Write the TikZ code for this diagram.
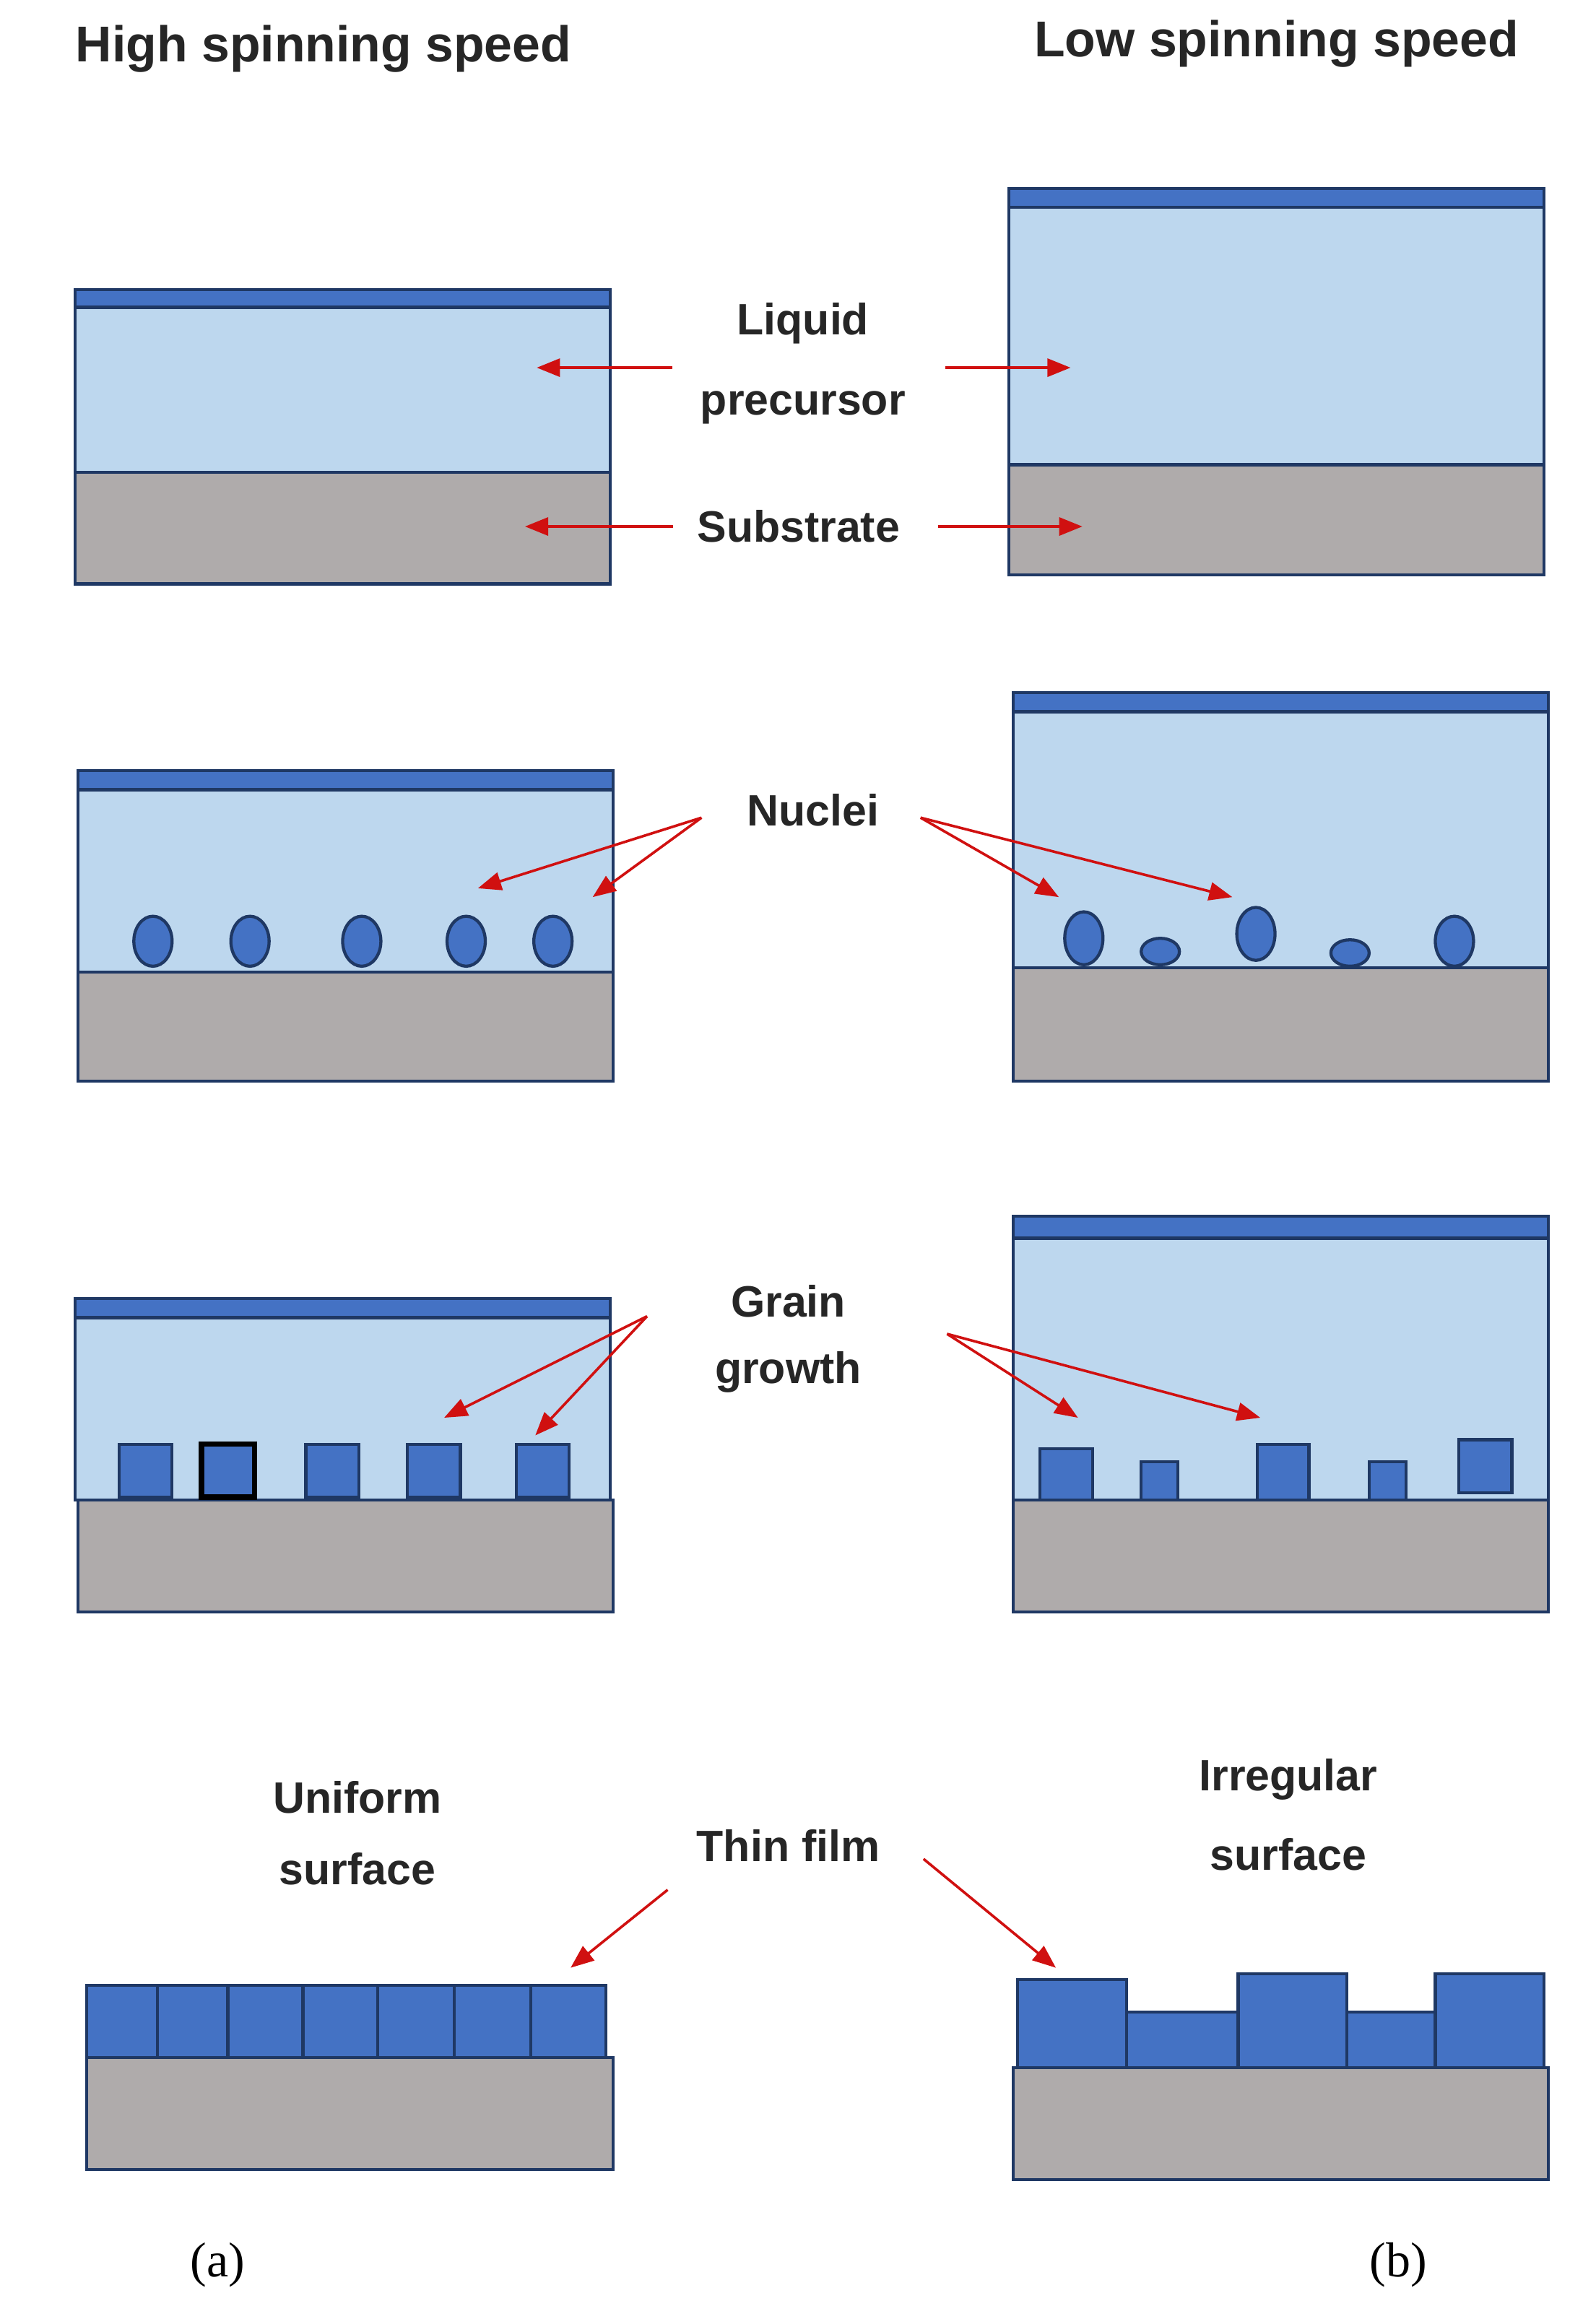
\documentclass[tikz,border=0pt]{standalone}
\usepackage{fontspec}
\setmainfont{Liberation Sans}
\usetikzlibrary{arrows.meta}
\definecolor{liq}{HTML}{BDD7EE}
\definecolor{bar}{HTML}{4472C4}
\definecolor{sub}{HTML}{AFABAB}
\definecolor{edge}{HTML}{1F3864}
\definecolor{arr}{HTML}{D01010}
\newcommand\mypanel[6]{% x1 x2 bartop liqtop subtop bottom
 \fill[sub,draw=edge,line width=1.2pt] (#1,#5) rectangle (#2,#6);
 \fill[liq,draw=edge,line width=1.2pt] (#1,#4) rectangle (#2,#5);
 \fill[bar,draw=edge,line width=1.2pt] (#1,#3) rectangle (#2,#4);}
\begin{document}
\begin{tikzpicture}[x=0.02cm,y=-0.02cm,
 lab/.style={font=\fontsize{17}{20}\selectfont\bfseries,text=black!85},
 ttl/.style={font=\fontsize{19.5}{22}\selectfont\bfseries,text=black!85},
 ra/.style={draw=arr,line width=1pt,-{Triangle[length=9pt,width=7pt]}},
 nuc/.style={fill=bar,draw=edge,line width=1.2pt},
 gr/.style={fill=bar,draw=edge,line width=1.2pt}]
\useasboundingbox (0,0) rectangle (1085,1568);
\node[ttl] (t1) at (220,33) {High spinning speed};
\node[ttl] (t2) at (868,30) {Low spinning speed};
% row 1
\mypanel{51}{415}{197}{209}{321}{397}
\mypanel{686}{1050}{128}{141}{316}{391}
\node[lab] (liq) at (546,220) {Liquid};
\node[lab] (pre) at (546,277) {precursor};
\node[lab] (sub) at (543,358) {Substrate};
\coordinate (l1) at (365,250); \coordinate (r1) at (728,250);
\coordinate (l2) at (357,358); \coordinate (r2) at (736,358);
\draw[ra] (457,250) -- (l1); \draw[ra] (643,250) -- (r1);
\draw[ra] (sub.west) ++(-10,0) -- (l2); \draw[ra] (sub.east) ++(20,0) -- (r2);
% row 2
\mypanel{53}{417}{524}{537}{661}{735}
\mypanel{689}{1053}{471}{484}{658}{735}
\foreach \x in {104,170,246,317,376} \draw[nuc] (\x,640) ellipse (13 and 17);
\draw[nuc] (737,638) ellipse (13 and 18);
\draw[nuc] (789,647) ellipse (13 and 9);
\draw[nuc] (854,635) ellipse (13 and 18);
\draw[nuc] (918,648) ellipse (13 and 9);
\draw[nuc] (989,640) ellipse (13 and 17);
\node[lab] (nuc) at (553,551) {Nuclei};
\coordinate (na) at (477,556); \coordinate (nb) at (626,556);
\coordinate (n1) at (325,604); \coordinate (n2) at (403,610);
\coordinate (n3) at (720,610); \coordinate (n4) at (838,610);
\draw[ra] (na) -- (n1); \draw[ra] (na) -- (n2);
\draw[ra] (nb) -- (n3); \draw[ra] (nb) -- (n4);
% row 3
\mypanel{51}{415}{883}{896}{1020}{1020}
\fill[sub,draw=edge,line width=1.2pt] (53,1020) rectangle (417,1096);
\draw[edge,line width=1.2pt] (51,1020) -- (417,1020);
\mypanel{689}{1053}{827}{842}{1020}{1096}
\foreach \x in {81,208,277,351} \draw[gr] (\x,982) rectangle ++(36,36);
\draw[fill=bar,draw=black,line width=2pt] (137,982) rectangle ++(36,36);
\draw[gr] (707,985) rectangle (743,1020);
\draw[gr] (776,994) rectangle (801,1020);
\draw[gr] (855,982) rectangle (890,1020);
\draw[gr] (931,994) rectangle (956,1020);
\draw[gr] (992,979) rectangle (1028,1015);
\node[lab] (g1) at (536,885) {Grain};
\node[lab] (g2) at (536,933) {growth};
\coordinate (ga) at (440,895); \coordinate (gb) at (644,907);
\coordinate (g3) at (302,964); \coordinate (g4) at (364,976);
\coordinate (g5) at (733,964); \coordinate (g6) at (857,964);
\draw[ra] (ga) -- (g3); \draw[ra] (ga) -- (g4);
\draw[ra] (gb) -- (g5); \draw[ra] (gb) -- (g6);
% row 4
\fill[sub,draw=edge,line width=1.2pt] (59,1399) rectangle (417,1475);
\foreach \a/\b in {59/107,107/155,155/206,206/257,257/309,309/361,361/412}
 \draw[gr] (\a,1350) rectangle (\b,1399);
\fill[sub,draw=edge,line width=1.2pt] (689,1406) rectangle (1053,1482);
\draw[gr] (692,1346) rectangle (766,1406);
\draw[gr] (766,1368) rectangle (842,1406);
\draw[gr] (842,1342) rectangle (916,1406);
\draw[gr] (916,1368) rectangle (976,1406);
\draw[gr] (976,1342) rectangle (1050,1406);
\node[lab] (u1) at (243,1222) {Uniform};
\node[lab] (u2) at (243,1271) {surface};
\node[lab] (i1) at (876,1210) {Irregular};
\node[lab] (i2) at (876,1261) {surface};
\node[lab] (tf) at (536,1255) {Thin film};
\coordinate (ta) at (454,1285); \coordinate (tb) at (628,1264);
\coordinate (t3) at (388,1338); \coordinate (t4) at (718,1338);
\draw[ra] (ta) -- (t3); \draw[ra] (tb) -- (t4);
\node[font=\fontspec{Liberation Serif}\fontsize{19}{22}\selectfont] (a) at (148,1540) {(a)};
\node[font=\fontspec{Liberation Serif}\fontsize{19}{22}\selectfont] (b) at (951,1540) {(b)};
\end{tikzpicture}
\end{document}
